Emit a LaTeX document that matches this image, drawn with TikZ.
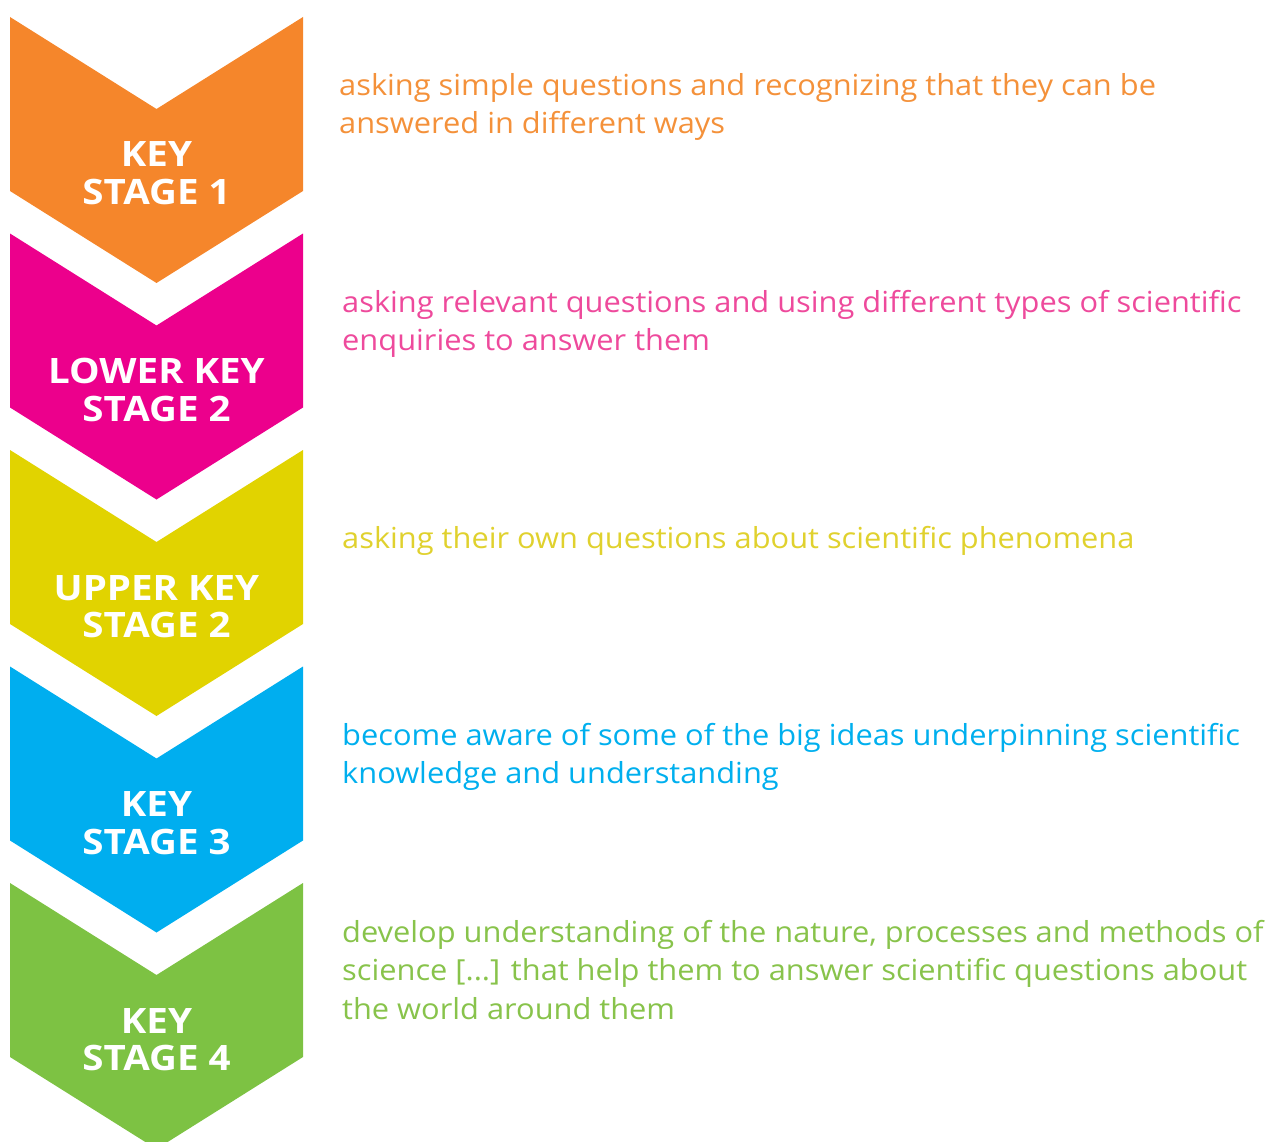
\documentclass[tikz,border=0pt]{standalone}
\usepackage{fontspec}
\setmainfont[FakeStretch=1.062]{Open Sans}
\newfontfamily\labelfont[FakeStretch=1.1]{Open Sans}
\definecolor{cOrange}{HTML}{F5862B}
\definecolor{cMagenta}{HTML}{EC008C}
\definecolor{cYellow}{HTML}{E1D300}
\definecolor{cCyan}{HTML}{00AEEF}
\definecolor{cGreen}{HTML}{7DC243}
\definecolor{tOrange}{HTML}{F4913A}
\definecolor{tPink}{HTML}{EE4A9C}
\definecolor{tYellow}{HTML}{E0D12E}
\definecolor{tCyan}{HTML}{00AFEE}
\definecolor{tGreen}{HTML}{88C34B}
\tikzset{
  chevron/.pic={\fill[pic actions] (10,0) -- (156.5,92) -- (303,0) -- (303,174) -- (156.5,266) -- (10,174) -- cycle;},
  stagelabel/.style={text=white, align=center, anchor=base, inner sep=0pt,
    font=\labelfont\bfseries\fontsize{35}{37.5}\selectfont},
  desc/.style={align=left, anchor=base west, inner sep=0pt,
    font=\fontsize{29}{38.5}\selectfont}
}
\begin{document}
\begin{tikzpicture}[x=1pt,y=-1pt]
\useasboundingbox (0,0) rectangle (1266,1142);
\pic[fill=cOrange]  at (0,17)    {chevron};
\pic[fill=cMagenta] at (0,233.5) {chevron};
\pic[fill=cYellow]  at (0,450)   {chevron};
\pic[fill=cCyan]    at (0,666.5) {chevron};
\pic[fill=cGreen]   at (0,883)   {chevron};
\node[stagelabel] (l1) at (156.5,204.5) {KEY\\STAGE 1};
\node[stagelabel] (l2) at (156.5,421)   {LOWER KEY\\STAGE 2};
\node[stagelabel] (l3) at (156.5,637.5) {UPPER KEY\\STAGE 2};
\node[stagelabel] (l4) at (156.5,854)   {KEY\\STAGE 3};
\node[stagelabel] (l5) at (156.5,1070.5) {KEY\\STAGE 4};
\node[desc, text=tOrange] (d1) at (339,134) {asking simple questions and recognizing that they can be\\answered in different ways};
\node[desc, text=tPink] (d2) at (342,350.5) {asking relevant questions and using different types of scientific\\enquiries to answer them};
\node[desc, text=tYellow] (d3) at (342,548) {asking their own questions about scientific phenomena};
\node[desc, text=tCyan] (d4) at (342,783.5) {become aware of some of the big ideas underpinning scientific\\knowledge and understanding};
\node[desc, text=tGreen] (d5) at (342,1019) {develop understanding of the nature, processes and methods of\\science [...] that help them to answer scientific questions about\\the world around them};
\end{tikzpicture}
\end{document}
